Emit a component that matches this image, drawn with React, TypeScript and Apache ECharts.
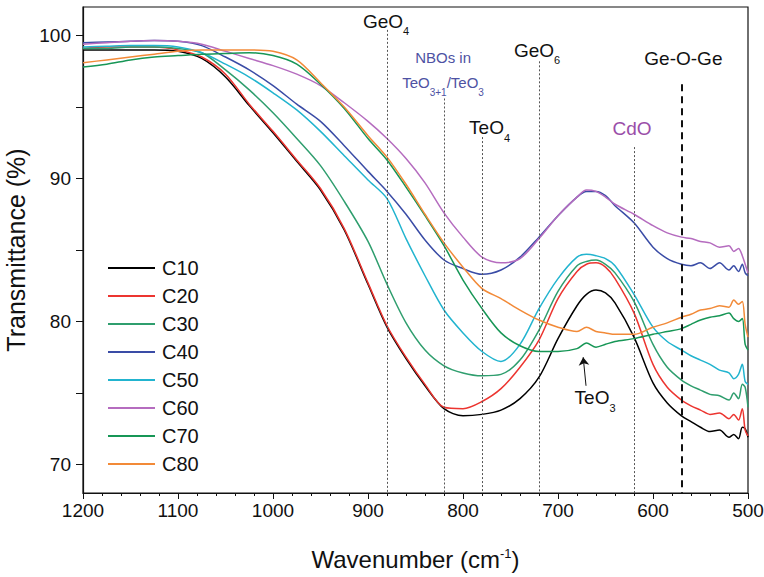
import React, { useEffect, useRef } from "react";
import * as echarts from "echarts";

const wavenumbers = [1200, 1175, 1150, 1125, 1100, 1075, 1050, 1025, 1000, 975, 950, 925, 900, 880, 860, 840, 820, 800, 780, 760, 740, 720, 700, 680, 670, 660, 650, 640, 620, 600, 585, 570, 560, 550, 540, 530, 520, 515, 510, 506, 503, 500];

const c10 = [99.0, 99.0, 99.0, 99.0, 98.9, 98.4, 97.1, 95.1, 93.2, 91.2, 89.2, 86.4, 82.6, 79.6, 77.4, 75.5, 73.9, 73.4, 73.5, 73.8, 74.6, 76.1, 78.8, 81.1, 81.9, 82.2, 82.0, 81.3, 78.9, 75.7, 74.3, 73.4, 73.0, 72.6, 72.3, 72.4, 71.9, 72.1, 71.8, 72.6, 72.5, 71.9];
const c20 = [99.1, 99.2, 99.2, 99.2, 99.0, 98.5, 97.3, 95.2, 93.3, 91.3, 89.3, 86.5, 82.7, 79.7, 77.5, 75.6, 74.0, 73.9, 74.4, 75.3, 76.8, 78.7, 81.6, 83.5, 84.0, 84.1, 83.8, 83.0, 80.6, 77.0, 75.4, 74.5, 74.1, 73.8, 73.5, 73.6, 73.2, 73.5, 73.1, 73.9, 72.4, 72.0];
const c30 = [99.1, 99.1, 99.2, 99.2, 99.1, 98.8, 97.6, 96.2, 94.6, 92.8, 90.9, 88.4, 85.6, 82.6, 79.9, 78.0, 76.9, 76.4, 76.2, 76.3, 77.3, 79.4, 82.1, 83.9, 84.2, 84.3, 84.0, 83.4, 81.4, 78.4, 76.8, 75.9, 75.5, 75.2, 74.9, 74.8, 74.5, 75.0, 74.6, 75.6, 75.4, 74.0];
const c40 = [99.5, 99.55, 99.6, 99.65, 99.6, 99.3, 98.5, 97.6, 96.5, 95.2, 94.0, 92.3, 90.5, 89.1, 87.5, 85.7, 84.3, 83.7, 83.3, 83.6, 84.5, 85.9, 87.4, 88.7, 89.1, 89.1, 88.8, 88.1, 86.9, 85.2, 84.4, 84.0, 83.9, 84.1, 83.7, 84.1, 83.6, 83.9, 83.5, 84.0, 83.4, 83.2];
const c50 = [99.2, 99.25, 99.3, 99.3, 99.2, 98.8, 98.0, 97.1, 96.0, 94.8, 93.3, 91.6, 89.9, 88.6, 85.8, 83.2, 80.8, 79.2, 77.9, 77.2, 78.4, 80.9, 83.0, 84.5, 84.7, 84.6, 84.4, 83.9, 81.9, 79.6, 78.6, 78.0, 77.6, 77.3, 77.0, 76.6, 76.4, 76.0, 76.3, 77.0, 75.8, 75.6];
const c60 = [99.4, 99.5, 99.6, 99.65, 99.6, 99.4, 98.9, 98.4, 97.9, 97.3, 96.5, 95.3, 94.0, 92.8, 91.4, 89.7, 87.6, 85.9, 84.5, 84.1, 84.4, 85.8, 87.4, 88.7, 89.2, 89.1, 88.7, 88.2, 87.5, 86.7, 86.2, 85.9, 85.8, 85.6, 85.5, 85.2, 85.3, 84.9, 85.1, 84.6, 84.0, 83.4];
const c70 = [97.8, 98.0, 98.3, 98.5, 98.6, 98.7, 98.75, 98.8, 98.6, 98.0, 96.6, 94.9, 92.8, 91.3, 89.4, 87.4, 85.3, 82.9, 80.9, 79.2, 78.3, 77.9, 77.9, 78.1, 78.5, 78.2, 78.4, 78.6, 78.8, 79.1, 79.3, 79.5, 79.8, 80.1, 80.3, 80.4, 80.6, 80.2, 80.0, 80.2, 78.4, 78.0];
const c80 = [98.1, 98.3, 98.5, 98.7, 98.9, 99.0, 99.0, 99.0, 98.9, 98.3, 96.7, 95.0, 93.0, 91.5, 89.6, 87.5, 85.5, 83.8, 82.3, 81.6, 80.8, 80.1, 79.6, 79.3, 79.6, 79.3, 79.2, 79.1, 79.1, 79.6, 79.9, 80.3, 80.5, 80.8, 80.9, 81.1, 81.0, 81.5, 81.2, 81.4, 79.8, 78.9];

const seriesNames = ["C10", "C20", "C30", "C40", "C50", "C60", "C70", "C80"];
const seriesValues = [c10, c20, c30, c40, c50, c60, c70, c80];
const seriesColors = ["#000000", "#ec3530", "#2f9e6e", "#3a4ca6", "#22b4cf", "#b56cbf", "#179656", "#f28a38"];

const xMin = 500;
const xMax = 1200;
const yMin = 68;
const yMax = 102;
const yLabelValues = [70, 80, 90, 100];
const yTickValues = [70, 75, 80, 85, 90, 95, 100];

// band marker lines: wavenumber, top of line (transmittance)
const bandPositions = [880, 820, 780, 720, 620, 570];
const bandTops = [100.4, 95.6, 92.9, 98.2, 92.2, 96.6];

// annotation texts
const annotationTexts = [
  { x: 881, y: 100.95, text: "{b|GeO}{s|4}", color: "#111111" },
  { x: 821, y: 98.35, text: "{m|NBOs in}", color: "#4e52a3" },
  { x: 821, y: 96.6, text: "{m|TeO}{ss|3+1}{m|/TeO}{ss|3}", color: "#4e52a3" },
  { x: 722, y: 98.9, text: "{b|GeO}{s|6}", color: "#111111" },
  { x: 772, y: 93.5, text: "{b|TeO}{s|4}", color: "#111111" },
  { x: 622, y: 93.4, text: "{b|CdO}", color: "#9a4ea8" },
  { x: 568, y: 98.3, text: "{b|Ge-O-Ge}", color: "#111111" },
  { x: 661, y: 74.6, text: "{b|TeO}{s|3}", color: "#111111" },
];
const arrowStart = [670.5, 75.5];
const arrowEnd = [673.5, 77.5];

export default function App() {
  const ref = useRef<HTMLDivElement>(null);
  useEffect(() => {
    if (!ref.current) return;
    const chart = echarts.init(ref.current, null, { renderer: "svg" });
    const font = "Liberation Sans, Arial, sans-serif";
    const series: any[] = seriesNames.map((name, i) => ({
      name,
      type: "line",
      data: wavenumbers.map((w, j) => [w, seriesValues[i][j]]),
      showSymbol: false,
      smooth: 0.3,
      lineStyle: { width: 1.5, color: seriesColors[i] },
      itemStyle: { color: seriesColors[i] },
      z: 3,
    }));

    series.push({
      name: "markers",
      type: "line",
      data: [],
      silent: true,
      z: 2,
      markLine: {
        silent: true,
        symbol: ["none", "none"],
        label: { show: false },
        data: bandPositions.map((b, i) => [
          {
            coord: [b, bandTops[i]],
            lineStyle:
              b === 570
                ? { type: [7, 5], width: 2, color: "#111" }
                : { type: [2, 2], width: 1, color: "#555" },
          },
          { coord: [b, yMin] },
        ]),
      },
      markPoint: {
        silent: true,
        symbol: "circle",
        symbolSize: 1,
        itemStyle: { color: "rgba(0,0,0,0)" },
        data: annotationTexts.map((a) => ({
          coord: [a.x, a.y],
          label: {
            show: true,
            position: "inside",
            formatter: a.text,
            fontFamily: font,
            rich: {
              b: { fontSize: 19, lineHeight: 21, color: a.color, fontFamily: font, verticalAlign: "top" },
              s: { fontSize: 11, lineHeight: 11, color: a.color, fontFamily: font, padding: [14, 0, 0, 0], verticalAlign: "top" },
              m: { fontSize: 15, lineHeight: 18, color: a.color, fontFamily: font, verticalAlign: "top" },
              ss: { fontSize: 10, lineHeight: 10, color: a.color, fontFamily: font, padding: [12, 0, 0, 0], verticalAlign: "top" },
            },
          },
        })),
      },
    });

    series.push({
      name: "arrow",
      type: "line",
      data: [],
      silent: true,
      markLine: {
        silent: true,
        symbol: ["none", "arrow"],
        symbolSize: 8,
        label: { show: false },
        lineStyle: { type: "solid", width: 1, color: "#111" },
        data: [[{ coord: arrowStart }, { coord: arrowEnd }]],
      },
    });

    chart.setOption({
      animation: false,
      backgroundColor: "#ffffff",
      textStyle: { fontFamily: font },
      grid: {
        left: 83,
        right: 16,
        top: 7,
        bottom: 84,
        outerBoundsMode: "none",
        containLabel: false,
        show: true,
        borderColor: "#111",
        borderWidth: 1.2,
        backgroundColor: "transparent",
      },
      legend: {
        data: seriesNames,
        orient: "vertical",
        left: 108,
        top: 258,
        padding: 0,
        icon: "rect",
        itemWidth: 47,
        itemHeight: 2,
        itemGap: 8,
        textStyle: { fontSize: 20, lineHeight: 20, color: "#111", fontFamily: font, padding: [0, 0, 0, 2] },
      },
      xAxis: {
        type: "value",
        inverse: true,
        min: xMin,
        max: xMax,
        interval: 100,
        name: "{b|Wavenumber (cm}{sup|-1}{b|)}",
        nameLocation: "middle",
        nameGap: 54,
        nameTextStyle: {
          rich: {
            b: { fontSize: 24, lineHeight: 24, color: "#111", fontFamily: font, verticalAlign: "bottom" },
            sup: { fontSize: 13, lineHeight: 13, color: "#111", fontFamily: font, verticalAlign: "top" },
          },
        },
        axisLine: { show: true, lineStyle: { color: "#111", width: 1.2 } },
        axisTick: { show: true, inside: false, length: 6, lineStyle: { color: "#111" } },
        minorTick: { show: true, splitNumber: 5, length: 3, lineStyle: { color: "#111" } },
        axisLabel: { fontSize: 19, color: "#111", margin: 8, fontFamily: font, formatter: (v: number) => String(v) },
        splitLine: { show: false },
      },
      yAxis: {
        type: "value",
        min: yMin,
        max: yMax,
        name: "Transmittance (%)",
        nameLocation: "middle",
        nameGap: 49,
        nameTextStyle: { fontSize: 25, color: "#111", fontFamily: font },
        axisLine: { show: true, lineStyle: { color: "#111", width: 1.2 } },
        axisTick: { show: true, inside: false, length: 7, customValues: yTickValues, lineStyle: { color: "#111" } },
        axisLabel: { fontSize: 19, color: "#111", margin: 12, customValues: yLabelValues, fontFamily: font, formatter: (v: number) => String(v) },
        splitLine: { show: false },
      },
      series,
    });
    return () => chart.dispose();
  }, []);
  return <div ref={ref} style={{ position: "absolute", left: 0, top: 0, width: 764, height: 577 }} />;
}
